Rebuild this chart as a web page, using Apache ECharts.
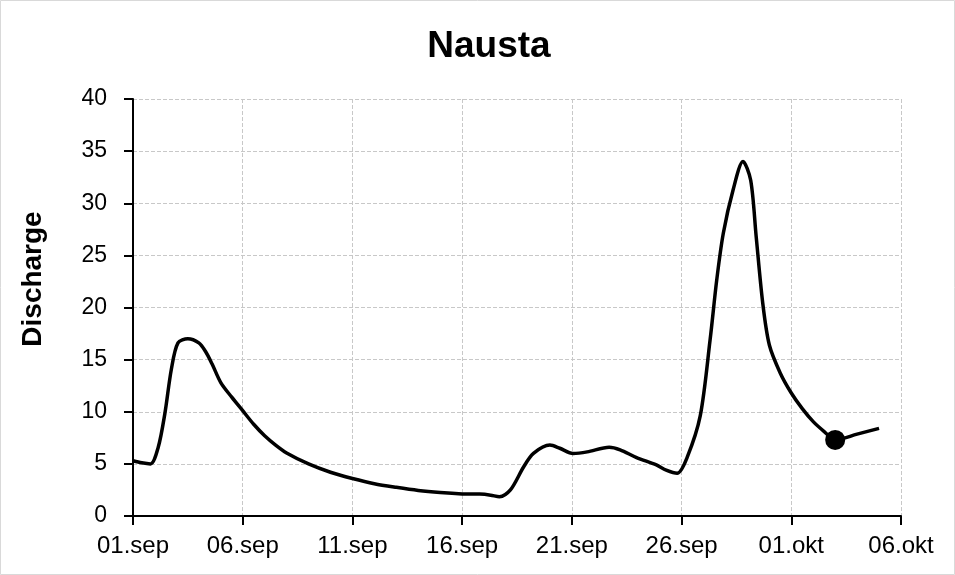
<!DOCTYPE html>
<html>
<head>
<meta charset="utf-8">
<script src="https://cdn.jsdelivr.net/npm/echarts@6/dist/echarts.min.js"></script>
<style>
html,body{margin:0;padding:0;background:#fff;}
#chart{width:955px;height:575px;}
</style>
</head>
<body>
<div id="chart"></div>
<script>
// Days since 01.sep
var days = [0,0.4,0.8,1.15,1.45,1.75,2.05,2.5,3.0,3.3,3.6,4.0,4.5,5.0,5.5,6.0,6.5,7.0,8.0,9.0,10.0,11.0,12.0,13.0,14.0,15.0,15.8,16.3,16.7,17.2,17.8,18.25,19.0,19.45,20.05,20.7,21.7,22.2,22.95,23.85,24.3,24.8,25.25,25.85,26.3,26.6,26.9,27.35,27.8,28.15,28.4,28.7,29.0,29.5,30.0,30.5,31.0,31.5,32.0,33.0,34.0];
var discharge = [5.3,5.1,5.0,6.6,9.8,14.1,16.6,17.0,16.6,15.8,14.6,12.8,11.4,10.1,8.8,7.7,6.8,6.05,5.0,4.2,3.6,3.1,2.75,2.45,2.25,2.12,2.1,2.0,1.85,2.5,4.7,6.0,6.8,6.5,6.0,6.15,6.6,6.35,5.6,4.9,4.4,4.1,5.6,9.6,16.9,22.6,27.1,31.3,34.0,32.2,26.8,20.4,16.4,13.7,11.8,10.3,9.05,8.1,7.3,7.85,8.4];
var markerDay = [32];
var markerValue = [7.3];
var xTickLabels = ['01.sep','06.sep','11.sep','16.sep','21.sep','26.sep','01.okt','06.okt'];
var yTicks = [0,5,10,15,20,25,30,35,40];
var titleText = 'Nausta';
var yAxisTitle = 'Discharge';

var lineData = days.map(function(d,i){return [d, discharge[i]];});
var markerData = markerDay.map(function(d,i){return [d, markerValue[i]];});

var chart = echarts.init(document.getElementById('chart'), null, {renderer:'canvas'});
var font = 'Liberation Sans, Arial, sans-serif';
chart.setOption({
  backgroundColor:'#fff',
  animation:false,
  title:{
    text:titleText,
    left:484, top:23,
    textAlign:'center',
    textStyle:{fontFamily:font, fontSize:37, fontWeight:'bold', color:'#000'}
  },
  graphic:[
    {type:'rect', shape:{x:0.5,y:0.5,width:954,height:574},
     style:{fill:null, stroke:'#d9d9d9', lineWidth:1}, silent:true},
    {type:'text', x:33, y:279, rotation:Math.PI/2,
     style:{text:yAxisTitle, fontFamily:font, fontSize:28, fontWeight:'bold', fill:'#000',
            align:'center', verticalAlign:'middle'}}
  ],
  grid:{left:133, right:54, top:99, bottom:59, containLabel:false},
  xAxis:{
    type:'value', min:0, max:35, interval:5,
    axisLine:{lineStyle:{color:'#000', width:2}},
    axisTick:{show:true, length:9, lineStyle:{color:'#000', width:2}},
    axisLabel:{
      color:'#000', fontFamily:font, fontSize:24, margin:18,
      formatter:function(v){return xTickLabels[Math.round(v/5)] || '';}
    },
    splitLine:{show:true, lineStyle:{color:'#c8c8c8', type:'dashed', width:1}}
  },
  yAxis:{
    type:'value', min:yTicks[0], max:yTicks[yTicks.length-1], interval:5,
    axisLine:{show:true, lineStyle:{color:'#000', width:2}},
    axisTick:{show:true, length:9, lineStyle:{color:'#000', width:2}},
    axisLabel:{color:'#000', fontFamily:font, fontSize:23, margin:26},
    splitLine:{show:true, lineStyle:{color:'#c8c8c8', type:'dashed', width:1}}
  },
  series:[
    {type:'line', data:lineData, smooth:0.3, showSymbol:false, symbol:'none',
     lineStyle:{color:'#000', width:3.5}, z:3},
    {type:'scatter', data:markerData, symbol:'circle', symbolSize:20,
     itemStyle:{color:'#000', opacity:1}, z:4}
  ]
});
</script>
</body>
</html>
